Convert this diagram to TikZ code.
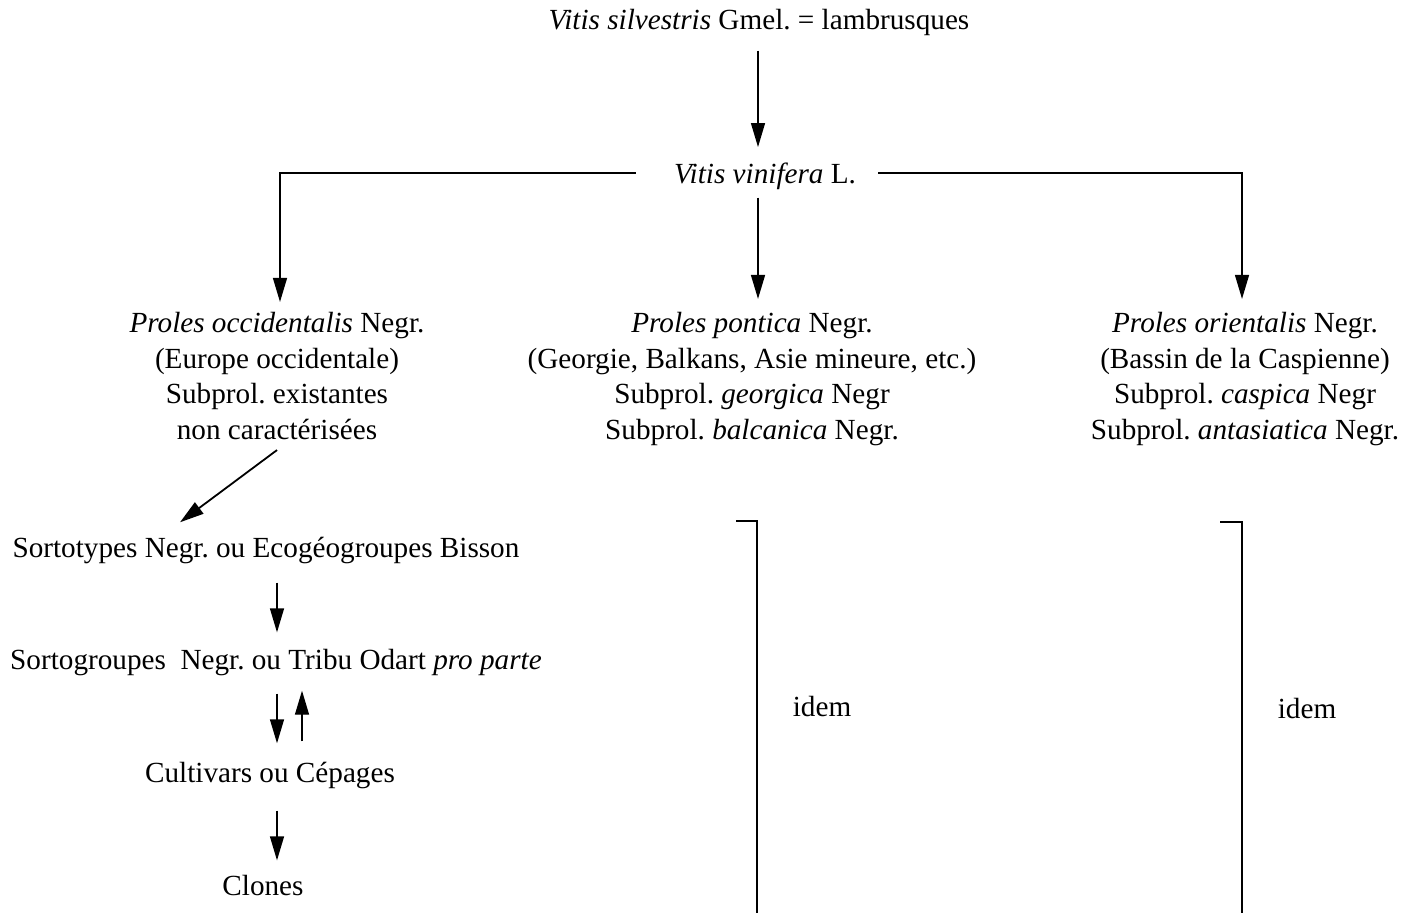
\documentclass[tikz,border=0pt]{standalone}
\usepackage{fontspec}
\setmainfont{Liberation Serif}
\usetikzlibrary{arrows.meta}
\usetikzlibrary{positioning}
\tikzset{arr/.style = {-{Triangle[length = 12pt, width = 7pt]}, line width = 0.7pt}}
\tikzset{lbl/.style = {inner sep = 0, font = \fontsize{14.6}{17.8}\selectfont}}
\tikzset{blk/.style = {lbl, align = center}}
\frenchspacing

\begin{document}
\begin{tikzpicture}[x = 0.5pt, y = -0.5pt]
    \useasboundingbox (0, 0) rectangle (1416, 913);
    \coordinate (mid) at (758, 0);
    \coordinate (lax) at (277, 0);
    \node [lbl, anchor = base] (silv) at (759, 30) {\textit{Vitis silvestris} Gmel. = lambrusques};
    \node [lbl, anchor = base] (vin) at (765, 184) {\textit{Vitis vinifera} L.};
    \node [blk] (occ) at (277, 376) {\textit{Proles occidentalis} Negr.\\(Europe occidentale)\\Subprol. existantes\\non caractérisées};
    \node [blk] (pont) at (752, 379) {\textit{Proles pontica} Negr.\\(Georgie, Balkans, Asie mineure, etc.)\\Subprol. \textit{georgica} Negr\\Subprol. \textit{balcanica} Negr.};
    \node [blk] (ori) at (1245, 379) {\textit{Proles orientalis} Negr.\\(Bassin de la Caspienne)\\Subprol. \textit{caspica} Negr\\Subprol. \textit{antasiatica} Negr.};
    \node [lbl, anchor = base] (sort) at (266, 557) {Sortotypes Negr. ou Ecogéogroupes Bisson};
    \node [lbl, anchor = base] (grp) at (276, 669) {Sortogroupes \ Negr. ou Tribu Odart \textit{pro parte}};
    \node [lbl, anchor = base] (cult) at (270, 782) {Cultivars ou Cépages};
    \node [lbl, anchor = base] (clo) at (263, 895) {Clones};
    \node [lbl, anchor = base] (idp) at (822, 716) {idem};
    \node [lbl, anchor = base] (ido) at (1307, 718) {idem};
    % tree
    \draw [arr] ([yshift = -7pt]silv.south -| mid) -- ([yshift = 8pt]vin.north -| mid);
    \draw [arr] ([xshift = -19pt, yshift = 2pt]vin.west) -| ([yshift = 5pt]occ.north -| 280, 0);
    \draw [arr] ([xshift = 11pt, yshift = 2pt]vin.east) -| ([yshift = 6.5pt]ori.north -| 1242, 0);
    \draw [arr] ([yshift = -3.5pt]vin.south -| mid) -- ([yshift = 6.5pt]pont.north -| mid);
    % left branch
    \draw [arr, line width = 0.9pt] ([yshift = -5pt]occ.south -| lax) -- ([xshift = -43pt, yshift = 7pt]sort.north);
    \draw [arr] ([yshift = -9.5pt]sort.south -| lax) -- ([yshift = 8pt]grp.north -| lax);
    \draw [arr] ([yshift = -9pt]grp.south -| lax) -- ([yshift = 9pt]cult.north -| lax);
    \draw [arr] ([xshift = 12.5pt, yshift = 10pt]cult.north -| lax) -- ([xshift = 12.5pt, yshift = -7.5pt]grp.south -| lax);
    \draw [arr] ([yshift = -11pt]cult.south -| lax) -- ([yshift = 7pt]clo.north -| lax);
    % brackets
    \coordinate (pb) at (736, 521);
    \coordinate (pe) at (757, 913);
    \coordinate (ob) at (1220, 522);
    \coordinate (oe) at (1242, 913);
    \draw [line width = 0.7pt] (pb) -| (pe);
    \draw [line width = 0.7pt] (ob) -| (oe);
  \end{tikzpicture}
\end{document}
